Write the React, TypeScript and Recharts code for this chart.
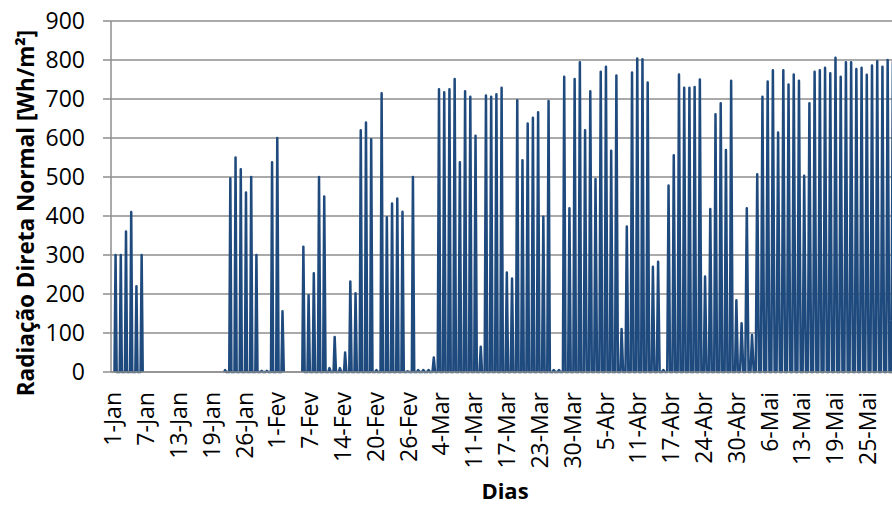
import { LineChart, Line, XAxis, YAxis, CartesianGrid } from 'recharts'

// daily peak of direct normal radiation [Wh/m²], 1-Jan onwards; null = no data
const dailyPeak: (number | null)[] = [
  300, 300, 360, 410, 220, 300, null, null, null, null,
  null, null, null, null, null, null, null, null, null, null,
  null, 5, 497, 550, 520, 460, 500, 300, 3, 3,
  538, 600, 156, null, null, null, 321, 197, 253, 500,
  450, 10, 90, 10, 50, 232, 202, 620, 640, 597,
  5, 715, 397, 432, 445, 411, 2, 500, 5, 5,
  5, 37, 725, 717, 725, 751, 538, 720, 706, 606,
  65, 709, 706, 712, 729, 255, 240, 697, 543, 637,
  652, 666, 398, 695, 5, 5, 757, 420, 751, 794,
  620, 720, 495, 770, 783, 567, 760, 110, 373, 768,
  804, 802, 742, 270, 283, 5, 478, 556, 763, 729,
  729, 731, 750, 245, 418, 661, 689, 569, 747, 184,
  125, 420, 95, 507, 706, 745, 774, 614, 774, 737,
  763, 747, 503, 689, 770, 774, 780, 766, 806, 757,
  794, 794, 777, 780, 762, 786, 797, 783, 800, 795,
]

const tickLabels = [
  '1-Jan', '7-Jan', '13-Jan', '19-Jan', '26-Jan', '1-Fev', '7-Fev', '14-Fev',
  '20-Fev', '26-Fev', '4-Mar', '11-Mar', '17-Mar', '23-Mar', '30-Mar', '5-Abr',
  '11-Abr', '17-Abr', '24-Abr', '30-Abr', '6-Mai', '13-Mai', '19-Mai', '25-Mai',
]

const yTicks = [0, 100, 200, 300, 400, 500, 600, 700, 800, 900]

const monthDays = [31, 28, 31, 30, 31]
const sunriseHour = [7, 7, 6, 6, 5]
const sunsetHour = [17, 18, 18, 19, 20]

const TICK_STEP = 151 // hours between category labels
const FONT = '"Open Sans", sans-serif'
const BLUE = '#1F4A7E'
const GRID = '#8e8e8e'

const dayMonth: number[] = []
monthDays.forEach((n, m) => {
  for (let i = 0; i < n; i++) dayMonth.push(m)
})

const chartData = dailyPeak.flatMap((peak, d) => {
  const m = dayMonth[d]
  if (peak === null) return [{ h: d * 24 + 12, v: null }]
  return [
    { h: d * 24 + sunriseHour[m], v: 0 },
    { h: d * 24 + 12, v: peak },
    { h: d * 24 + sunsetHour[m], v: 0 },
  ]
})

const tickPositions = tickLabels.map((_, i) => i * TICK_STEP)

function DateTick({ x, y, payload }: any) {
  const label = tickLabels[Math.round(payload.value / TICK_STEP)]
  const ty = y + 20
  return (
    <text
      x={x}
      y={ty}
      dy="0.36em"
      transform={`rotate(-90 ${x} ${ty})`}
      textAnchor="end"
      fontSize={23}
      fontFamily={FONT}
      fill="#000"
    >
      {label}
    </text>
  )
}

export default function App() {
  return (
    <div style={{ position: 'absolute', left: 0, top: 0, width: 892, height: 506, background: '#fff' }}>
      <LineChart width={892} height={506} data={chartData} margin={{ top: 21, right: 0, bottom: 0, left: 0 }}>
        <CartesianGrid vertical={false} stroke={GRID} strokeWidth={1.5} />
        <XAxis
          dataKey="h"
          type="number"
          domain={[-9, 3584]}
          allowDataOverflow
          ticks={tickPositions}
          interval={0}
          height={134}
          tickSize={0}
          tickMargin={0}
          tickLine={false}
          axisLine={{ stroke: GRID, strokeWidth: 1.5 }}
          tick={<DateTick />}
        />
        <YAxis
          domain={[0, 900]}
          ticks={yTicks}
          interval={0}
          width={111}
          tickSize={8}
          tickMargin={18}
          tickLine={{ stroke: GRID, strokeWidth: 1.5 }}
          axisLine={{ stroke: GRID, strokeWidth: 1.5 }}
          tick={{ fontSize: 23, fill: '#000', fontFamily: FONT }}
        />
        <Line
          type="linear"
          dataKey="v"
          stroke={BLUE}
          strokeWidth={2.5}
          strokeLinejoin="round"
          dot={false}
          activeDot={false}
          isAnimationActive={false}
        />
      </LineChart>
      <svg
        width={892}
        height={506}
        style={{ position: 'absolute', left: 0, top: 0, pointerEvents: 'none' }}
      >
        <text
          x={34}
          y={213}
          transform="rotate(-90 34 213)"
          textAnchor="middle"
          fontSize={22.5}
          fontWeight="bold"
          fontFamily={FONT}
          fill="#000"
        >
          Radiação Direta Normal [Wh/m²]
        </text>
        <text x={505} y={499} textAnchor="middle" fontSize={22} fontWeight="bold" fontFamily={FONT} fill="#000">
          Dias
        </text>
      </svg>
    </div>
  )
}
